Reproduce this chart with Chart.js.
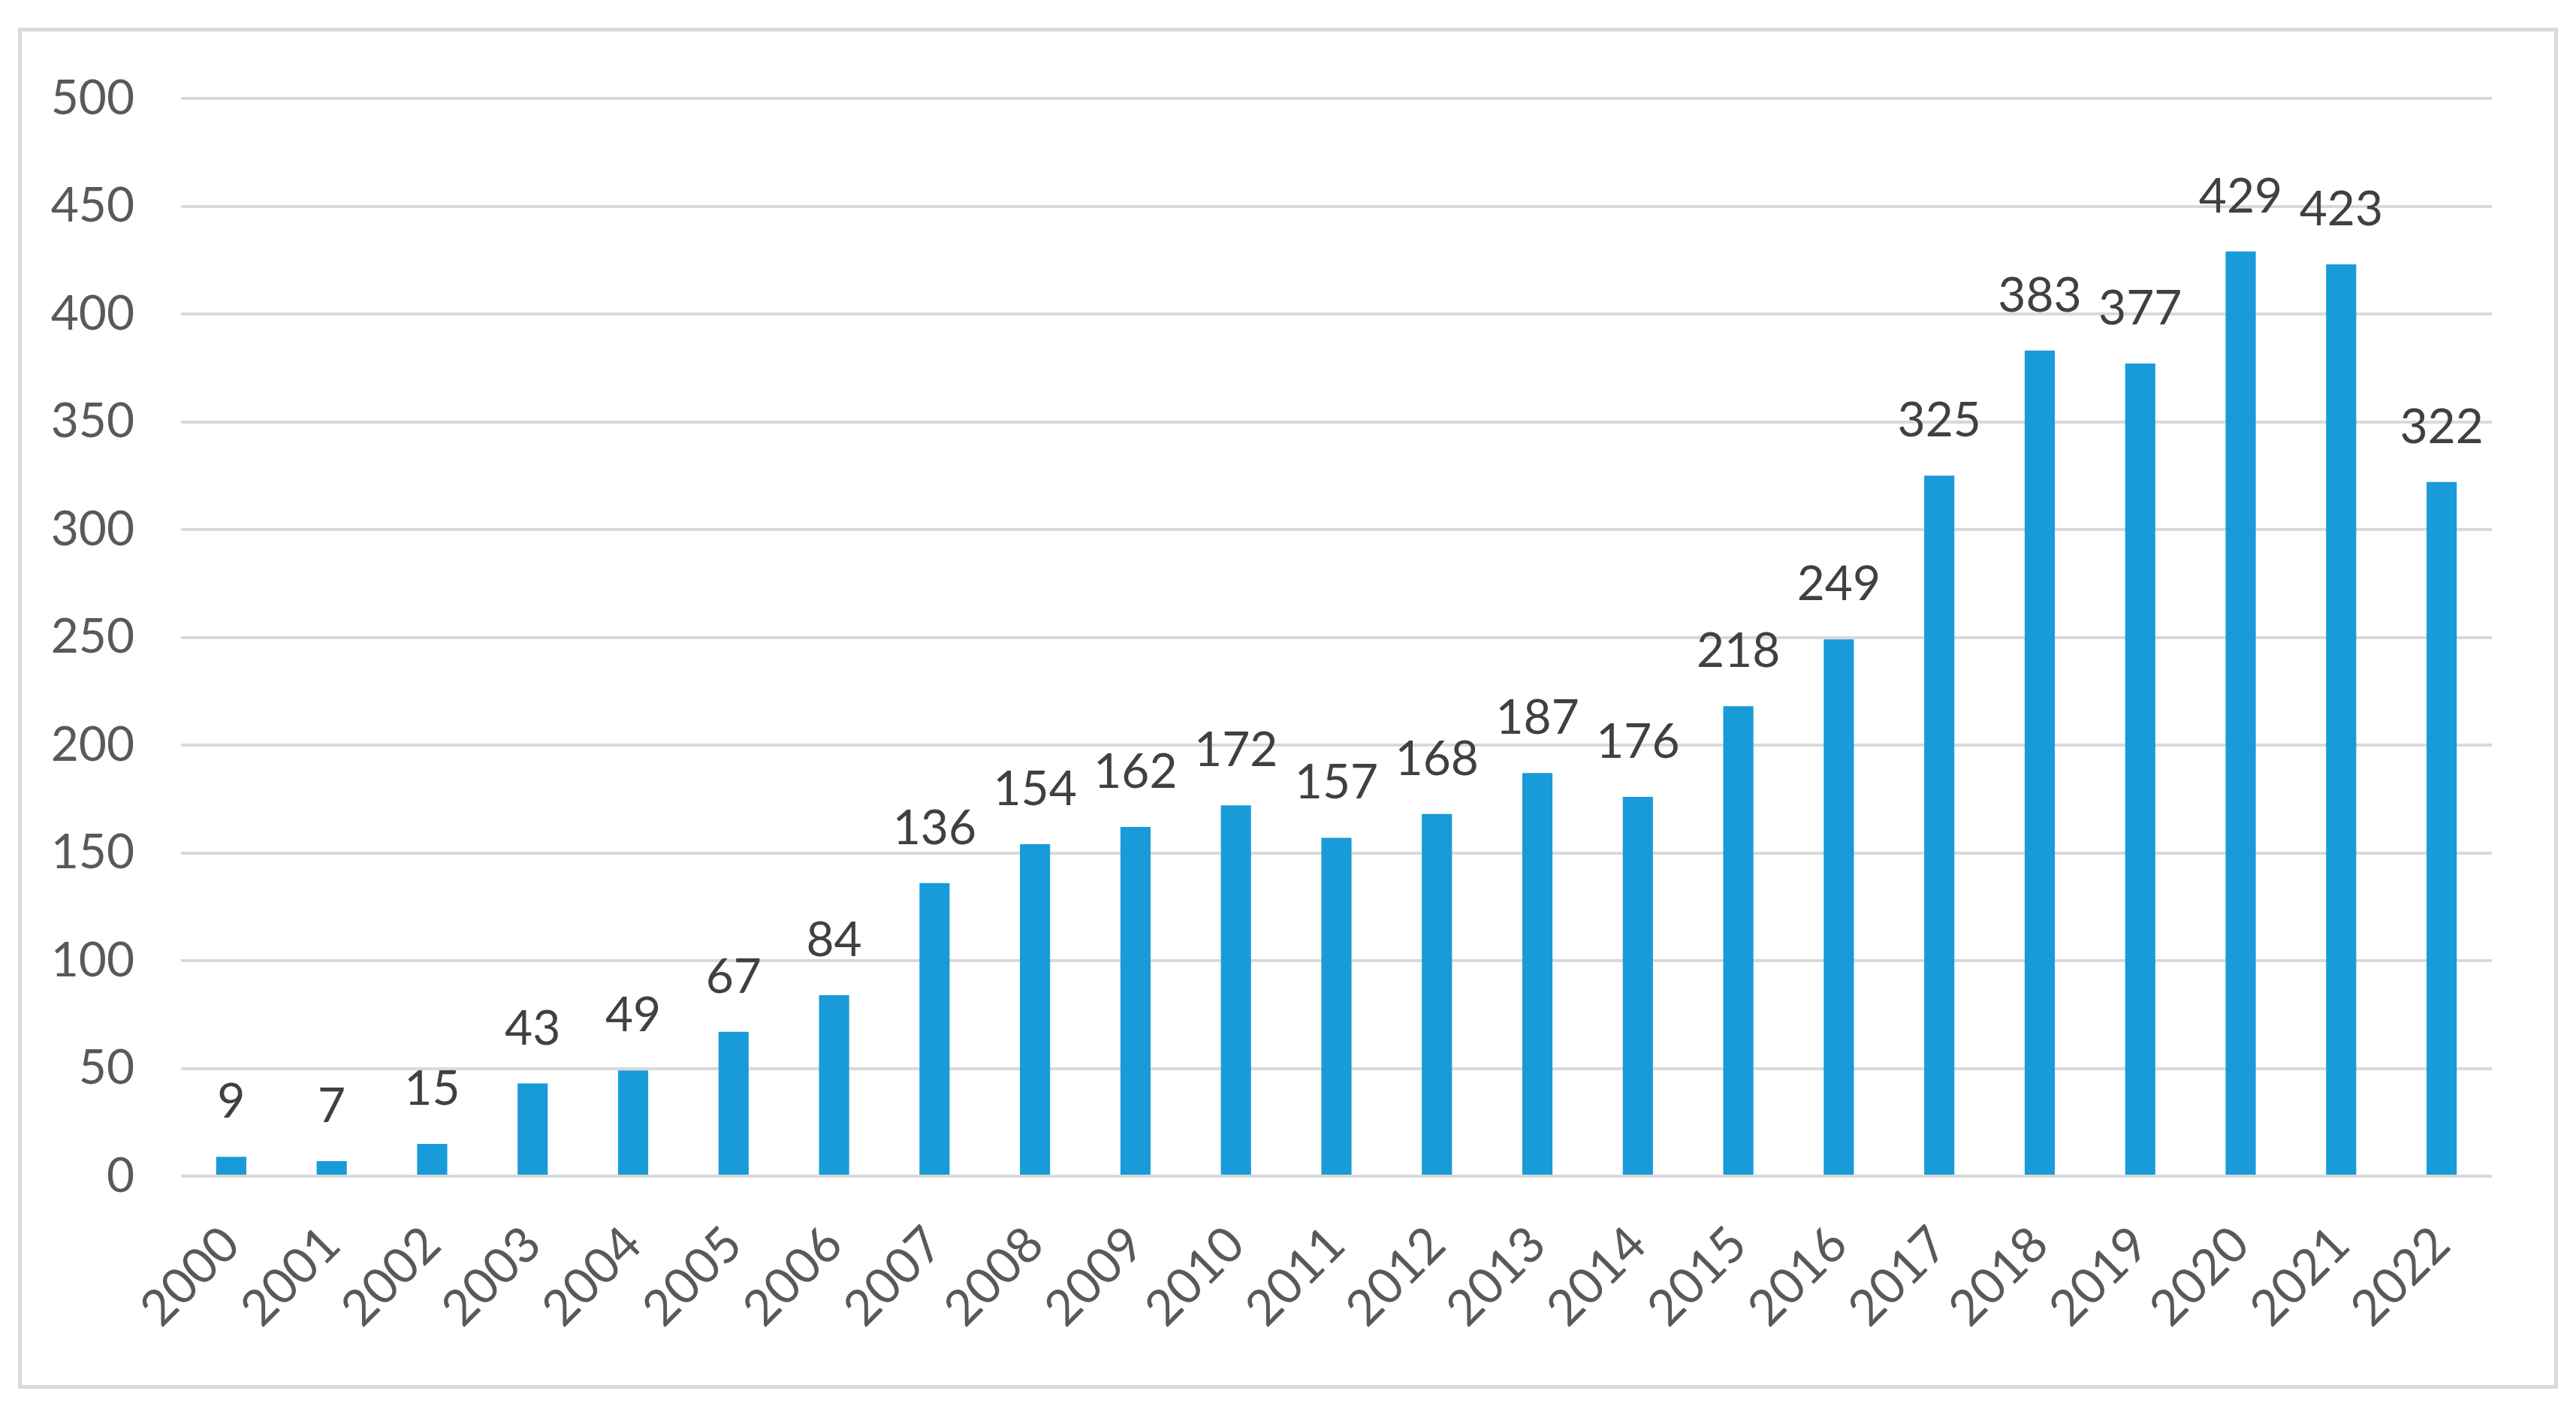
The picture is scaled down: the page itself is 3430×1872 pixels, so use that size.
<!DOCTYPE html>
<html>
<head>
<meta charset="utf-8">
<script src="https://cdn.jsdelivr.net/npm/chart.js@4.4.1/dist/chart.umd.min.js"></script>
<style>
  html, body { margin: 0; padding: 0; background: #ffffff; }
  body { width: 3430px; height: 1872px; position: relative; overflow: hidden; }
  #wrap { position: absolute; left: 0; top: 0; width: 3430px; height: 1872px; }
  #frame { position: absolute; left: 24px; top: 37px; width: 3372px; height: 1802px; border: 5px solid #d9d9d9; pointer-events: none; }
</style>
</head>
<body>
<div id="wrap"><canvas id="c" width="3430" height="1872"></canvas></div>
<div id="frame"></div>
<script>
const years = ['2000','2001','2002','2003','2004','2005','2006','2007','2008','2009','2010','2011','2012','2013','2014','2015','2016','2017','2018','2019','2020','2021','2022'];
const counts = [9, 7, 15, 43, 49, 67, 84, 136, 154, 162, 172, 157, 168, 187, 176, 218, 249, 325, 383, 377, 429, 423, 322];
const yTicks = [0, 50, 100, 150, 200, 250, 300, 350, 400, 450, 500];

const FONT = 'Lato, "Open Sans", "Noto Sans", sans-serif';

const valueLabels = {
  id: 'valueLabels',
  afterDatasetsDraw(chart) {
    const ctx = chart.ctx;
    const meta = chart.getDatasetMeta(0);
    ctx.save();
    ctx.font = '64px ' + FONT;
    ctx.fillStyle = '#404040';
    ctx.textAlign = 'center';
    ctx.textBaseline = 'alphabetic';
    meta.data.forEach((bar, i) => {
      ctx.fillText(String(counts[i]), bar.x, bar.y - 52);
    });
    ctx.restore();
  }
};

new Chart(document.getElementById('c'), {
  type: 'bar',
  data: {
    labels: years,
    datasets: [{
      data: counts,
      backgroundColor: '#189bd8',
      borderWidth: 0,
      categoryPercentage: 1.0,
      barPercentage: 0.3
    }]
  },
  options: {
    responsive: false,
    animation: false,
    devicePixelRatio: 1,
    layout: { padding: { left: 0, right: 112, top: 131, bottom: 0 } },
    plugins: { legend: { display: false }, tooltip: { enabled: false } },
    scales: {
      x: {
        grid: { display: false, drawTicks: false },
        border: { display: false },
        ticks: {
          color: '#595959',
          font: { family: FONT, size: 66 },
          minRotation: 45,
          maxRotation: 45,
          padding: 52,
          autoSkip: false
        },
        afterFit(scale) { scale.height = 306; }
      },
      y: {
        min: 0,
        max: 500,
        afterBuildTicks(scale) { scale.ticks = yTicks.map(v => ({ value: v })); },
        grid: { color: '#d9d9d9', lineWidth: 4, drawTicks: false },
        border: { display: false },
        ticks: {
          color: '#595959',
          font: { family: FONT, size: 64 },
          padding: 62
        },
        afterFit(scale) { scale.width = 241; }
      }
    }
  },
  plugins: [valueLabels]
});
</script>
</body>
</html>
